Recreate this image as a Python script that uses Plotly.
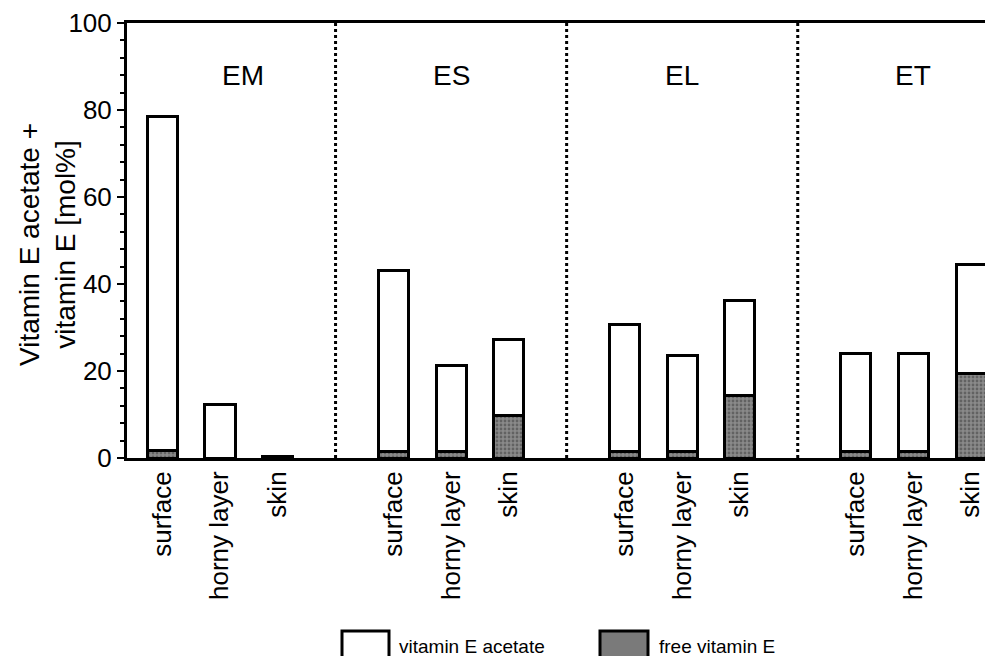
import plotly.graph_objects as go

groups = ["EM", "ES", "EL", "ET"]
sites = ["surface", "horny layer", "skin"]
# mol% values (per group: surface, horny layer, skin)
free_vit_e = [1.7, 0.0, 0.0,
              1.6, 1.5, 9.8,
              1.6, 1.4, 14.4,
              1.4, 1.4, 19.4]
acetate = [76.8, 12.4, 0.4,
           41.5, 19.7, 17.4,
           29.0, 22.2, 21.8,
           22.6, 22.7, 25.0]

# positions: 3 bars per group, one empty slot between groups
xpos, ticktext = [], []
for gi, g in enumerate(groups):
    for si, s in enumerate(sites):
        xpos.append(gi * 4 + si)
        ticktext.append(s)

OFF = 8  # page body margin
W, H = 993 - OFF, 656 - OFF
L, R, T = 119, 0, 15
B = H - 450
pw, ph = W - L - R, H - T - B
FONT = "Liberation Sans, Arial, sans-serif"

def px(X):
    return (X - OFF - L) / pw

def py(Y):
    return (450 - (Y - OFF)) / ph

fig = go.Figure()
fig.add_trace(go.Bar(
    x=xpos, y=free_vit_e, name="free vitamin E", width=0.52,
    marker=dict(color="#7a7a7a", line=dict(color="black", width=3),
                pattern=dict(shape=".", fgcolor="#3a3a3a", bgcolor="#8a8a8a", size=4, solidity=0.4)),
))
fig.add_trace(go.Bar(
    x=xpos, y=acetate, name="vitamin E acetate", width=0.52,
    marker=dict(color="white", line=dict(color="black", width=3)),
))

shapes = []
for gi in range(1, len(groups)):
    xd = gi * 4 - 1
    shapes.append(dict(type="line", xref="x", yref="y", x0=xd, x1=xd, y0=0, y1=100,
                       line=dict(color="black", width=3, dash="dot")))

# custom legend
shapes.append(dict(type="rect", xref="paper", yref="paper", x0=px(342), x1=px(389),
                   y0=py(668), y1=py(631), line=dict(color="black", width=3), fillcolor="white"))
shapes.append(dict(type="rect", xref="paper", yref="paper", x0=px(600), x1=px(648),
                   y0=py(668), y1=py(631), line=dict(color="black", width=3), fillcolor="#7a7a7a"))

annotations = []
group_label_x = [1.4, 5, 9, 13]
for g, gx in zip(groups, group_label_x):
    annotations.append(dict(x=gx, y=88, xref="x", yref="y", text=g, showarrow=False,
                            font=dict(family=FONT, size=28, color="black")))
annotations.append(dict(x=px(47), y=py(245), xref="paper", yref="paper", xanchor="center",
                        yanchor="middle",
                        text="Vitamin E acetate +<br>vitamin E [mol%]", textangle=-90,
                        showarrow=False, font=dict(family=FONT, size=28, color="black")))
annotations.append(dict(x=px(397), y=py(646), xref="paper", yref="paper", xanchor="left",
                        yanchor="middle",
                        text="vitamin E acetate", showarrow=False,
                        font=dict(family=FONT, size=19, color="black")))
annotations.append(dict(x=px(657), y=py(646), xref="paper", yref="paper", xanchor="left",
                        yanchor="middle",
                        text="free vitamin E", showarrow=False,
                        font=dict(family=FONT, size=19, color="black")))

fig.update_layout(
    width=W, height=H, barmode="stack", showlegend=False,
    margin=dict(l=L, r=R, t=T, b=B, autoexpand=False),
    paper_bgcolor="white", plot_bgcolor="white",
    shapes=shapes, annotations=annotations,
    font=dict(family=FONT, color="black"),
)
fig.update_xaxes(range=[-0.61, 14.38], tickvals=xpos, ticktext=ticktext, tickangle=-90,
                 showline=True, linecolor="black", linewidth=3, mirror=True,
                 ticks="", showgrid=False, zeroline=False,
                 tickfont=dict(family=FONT, size=26, color="black"))
fig.update_yaxes(range=[0, 100], tickvals=[0, 20, 40, 60, 80, 100],
                 showline=True, linecolor="black", linewidth=3,
                 ticks="outside", ticklen=7, tickwidth=2, tickcolor="black",
                 minor=dict(dtick=4, ticks="outside", ticklen=4, tickwidth=2, tickcolor="black"),
                 showgrid=False, zeroline=False,
                 tickfont=dict(family=FONT, size=26, color="black"))

fig.write_html("out.html")
